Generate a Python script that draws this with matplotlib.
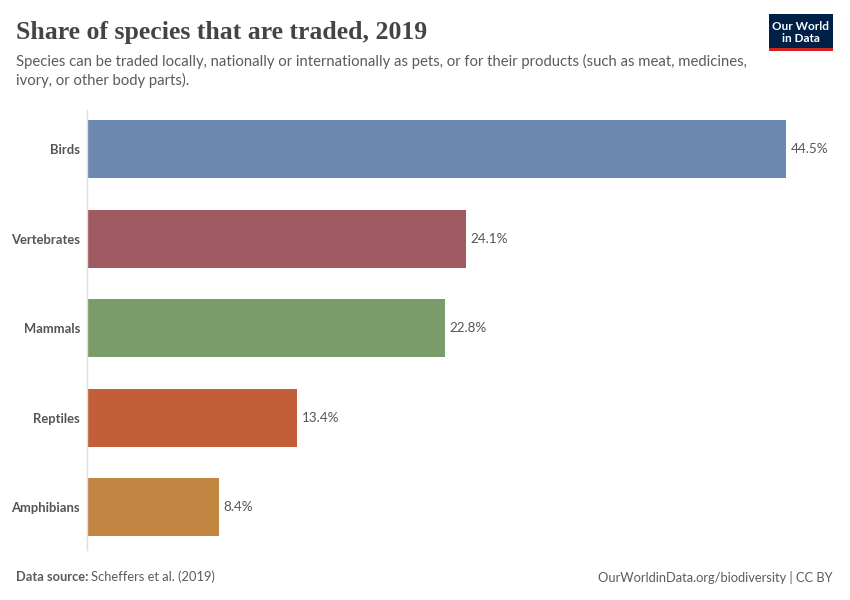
import matplotlib
matplotlib.use("Agg")
import matplotlib.pyplot as plt
from matplotlib.patches import Rectangle

categories = ["Birds", "Vertebrates", "Mammals", "Reptiles", "Amphibians"]
values = [44.5, 24.1, 22.8, 13.4, 8.4]
colors = ["#6D88B0", "#A05A62", "#7A9C6B", "#C35E3A", "#C28441"]

plt.rcParams['font.family'] = ['Lato', 'DejaVu Sans']

fig = plt.figure(figsize=(8.5, 6), dpi=100)
ax = fig.add_axes([87/850, 1-550/600, (786-87)/850, (550-110)/600])

ypos = list(range(len(categories)))
ax.barh(ypos, values, height=0.65, color=colors)
for y, v in zip(ypos, values):
    ax.text(v + 0.3, y, f"{v}%", va='center', ha='left', fontsize=9.7, color='#555555')

ax.set_xlim(0, 44.5)
ax.set_ylim(4.48, -0.44)
ax.set_yticks(ypos)
ax.set_yticklabels(categories, fontsize=9.4, color='#555555', fontweight='bold')
ax.tick_params(axis='y', length=0, pad=5)
ax.set_xticks([])
for s in ['top', 'right', 'bottom']:
    ax.spines[s].set_visible(False)
ax.spines['left'].set_color('#dddddd')
ax.spines['left'].set_linewidth(1)

fig.text(16/850, 1-33/600, "Share of species that are traded, 2019", fontsize=18.5,
         family=['Liberation Serif', 'DejaVu Serif'], fontweight='bold',
         color='#444444', va='center', ha='left')
fig.text(16/850, 1-61/600, "Species can be traded locally, nationally or internationally as pets, or for their products (such as meat, medicines,",
         fontsize=10.7, color='#5b5b5b', va='center', ha='left')
fig.text(16/850, 1-80/600, "ivory, or other body parts).",
         fontsize=10.7, color='#5b5b5b', va='center', ha='left')

# logo
fig.patches.append(Rectangle((769/850, 1-51/600), 64/850, 37/600, transform=fig.transFigure,
                             facecolor='#002147', edgecolor='none'))
fig.patches.append(Rectangle((769/850, 1-51/600), 64/850, 3/600, transform=fig.transFigure,
                             facecolor='#CE261E', edgecolor='none'))
fig.text(801/850, 1-26/600, "Our World", fontsize=8.5, color='white', ha='center', va='center', fontweight='bold')
fig.text(801/850, 1-39/600, "in Data", fontsize=8.5, color='white', ha='center', va='center', fontweight='bold')

fig.text(16/850, 1-577/600, "Data source:", fontsize=9.3, color='#5b5b5b', fontweight='bold', va='center', ha='left')
fig.text(91/850, 1-577/600, "Scheffers et al. (2019)", fontsize=9.3, color='#5b5b5b', va='center', ha='left')
fig.text(833/850, 1-577/600, "OurWorldinData.org/biodiversity | CC BY", fontsize=9.3, color='#5b5b5b', va='center', ha='right')

fig.savefig("out.png", dpi=100, facecolor='white')
